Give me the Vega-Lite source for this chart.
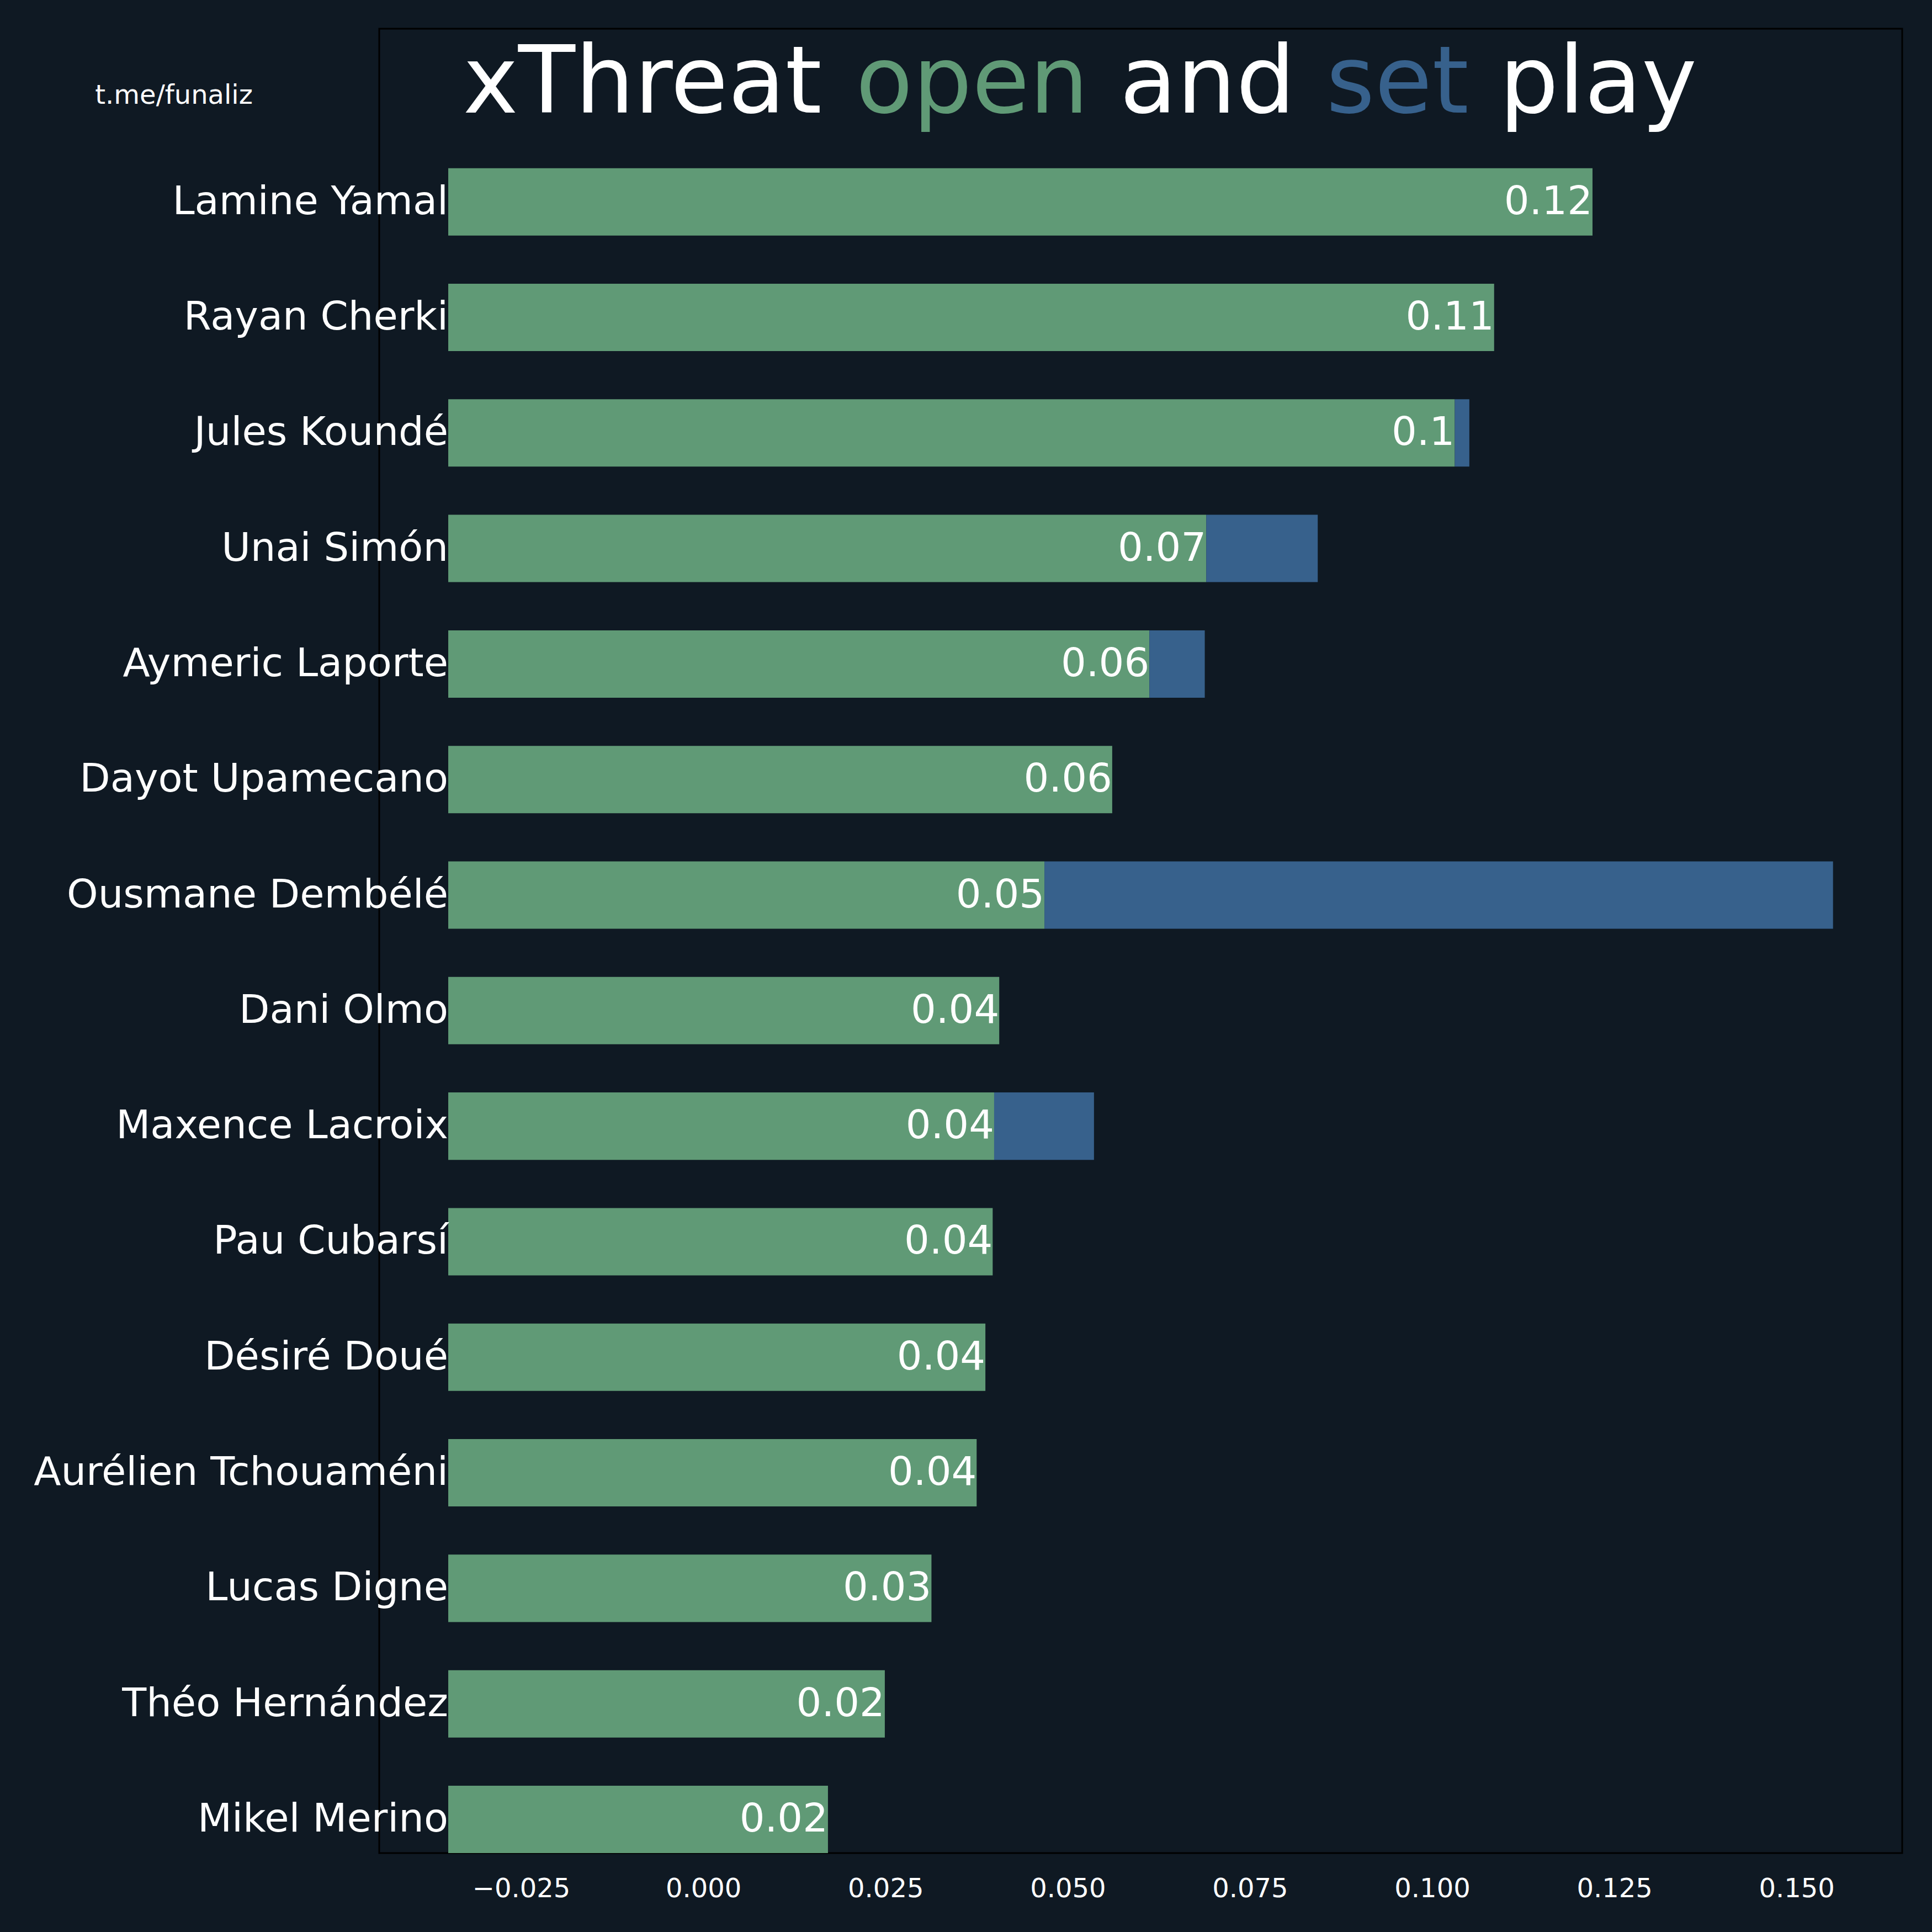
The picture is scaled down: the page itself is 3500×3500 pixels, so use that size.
{
  "$schema": "https://vega.github.io/schema/vega-lite/v6.json",
  "width": 2759,
  "height": 3305,
  "autosize": {"type": "none"},
  "padding": {"left": 687, "top": 52, "right": 54, "bottom": 143},
  "background": "#0f1923",
  "config": {
    "view": {"stroke": "#000000", "strokeWidth": 3},
    "font": "DejaVu Sans",
    "text": {"font": "DejaVu Sans"}
  },
  "data": {
    "values": [
      {"player": "Lamine Yamal", "open": 0.1220, "total": 0.1220, "label": "0.12"},
      {"player": "Rayan Cherki", "open": 0.1085, "total": 0.1085, "label": "0.11"},
      {"player": "Jules Koundé", "open": 0.1031, "total": 0.1051, "label": "0.1"},
      {"player": "Unai Simón", "open": 0.0690, "total": 0.0843, "label": "0.07"},
      {"player": "Aymeric Laporte", "open": 0.0612, "total": 0.0688, "label": "0.06"},
      {"player": "Dayot Upamecano", "open": 0.0561, "total": 0.0561, "label": "0.06"},
      {"player": "Ousmane Dembélé", "open": 0.0468, "total": 0.1550, "label": "0.05"},
      {"player": "Dani Olmo", "open": 0.0406, "total": 0.0406, "label": "0.04"},
      {"player": "Maxence Lacroix", "open": 0.0399, "total": 0.0536, "label": "0.04"},
      {"player": "Pau Cubarsí", "open": 0.0397, "total": 0.0397, "label": "0.04"},
      {"player": "Désiré Doué", "open": 0.0387, "total": 0.0387, "label": "0.04"},
      {"player": "Aurélien Tchouaméni", "open": 0.0375, "total": 0.0375, "label": "0.04"},
      {"player": "Lucas Digne", "open": 0.0313, "total": 0.0313, "label": "0.03"},
      {"player": "Théo Hernández", "open": 0.0249, "total": 0.0249, "label": "0.02"},
      {"player": "Mikel Merino", "open": 0.0171, "total": 0.0171, "label": "0.02"}
    ]
  },
  "encoding": {
    "y": {
      "field": "player",
      "type": "nominal",
      "sort": null,
      "axis": null,
      "scale": {"paddingInner": 0.417, "paddingOuter": 0.6035, "align": 1}
    }
  },
  "layer": [
    {
      "mark": {"type": "bar", "color": "#609a76"},
      "encoding": {
        "x": {
          "field": "open",
          "type": "quantitative",
          "scale": {"domain": [-0.04447, 0.16449], "nice": false, "zero": false},
          "axis": {
            "values": [-0.025, 0, 0.025, 0.05, 0.075, 0.1, 0.125, 0.15],
            "format": ".3f",
            "title": null,
            "grid": false,
            "ticks": false,
            "domain": false,
            "labelFont": "DejaVu Sans",
            "labelFontSize": 48,
            "labelColor": "#ffffff",
            "labelPadding": 41
          }
        },
        "x2": {"datum": -0.035}
      }
    },
    {
      "transform": [{"filter": "datum.total > datum.open"}],
      "mark": {"type": "bar", "color": "#37618c"},
      "encoding": {
        "x": {"field": "open", "type": "quantitative"},
        "x2": {"field": "total"}
      }
    },
    {
      "mark": {"type": "text", "align": "right", "baseline": "middle", "fontSize": 72, "color": "#ffffff"},
      "encoding": {
        "x": {"field": "open", "type": "quantitative"},
        "text": {"field": "label"}
      }
    },
    {
      "mark": {"type": "text", "align": "right", "baseline": "middle", "fontSize": 72, "color": "#ffffff", "dx": 0},
      "encoding": {
        "x": {"datum": -0.035},
        "text": {"field": "player"}
      }
    },
    {
      "data": {"values": [{}]},
      "mark": {"type": "text", "align": "center", "baseline": "alphabetic", "fontSize": 48, "color": "#ffffff", "text": "t.me/funaliz"},
      "encoding": {"x": {"datum": -0.07264}, "y": {"value": 136}}
    },
    {
      "data": {"values": [{}]},
      "mark": {"type": "text", "align": "left", "baseline": "alphabetic", "fontSize": 169, "color": "#ffffff", "text": "xThreat"},
      "encoding": {"x": {"datum": -0.03297}, "y": {"value": 152}}
    },
    {
      "data": {"values": [{}]},
      "mark": {"type": "text", "align": "left", "baseline": "alphabetic", "fontSize": 169, "color": "#609a76", "text": "open"},
      "encoding": {"x": {"datum": 0.02091}, "y": {"value": 152}}
    },
    {
      "data": {"values": [{}]},
      "mark": {"type": "text", "align": "left", "baseline": "alphabetic", "fontSize": 169, "color": "#ffffff", "text": "and"},
      "encoding": {"x": {"datum": 0.05713}, "y": {"value": 152}}
    },
    {
      "data": {"values": [{}]},
      "mark": {"type": "text", "align": "left", "baseline": "alphabetic", "fontSize": 169, "color": "#37618c", "text": "set"},
      "encoding": {"x": {"datum": 0.08545}, "y": {"value": 152}}
    },
    {
      "data": {"values": [{}]},
      "mark": {"type": "text", "align": "left", "baseline": "alphabetic", "fontSize": 169, "color": "#ffffff", "text": "play"},
      "encoding": {"x": {"datum": 0.10922}, "y": {"value": 152}}
    }
  ]
}
